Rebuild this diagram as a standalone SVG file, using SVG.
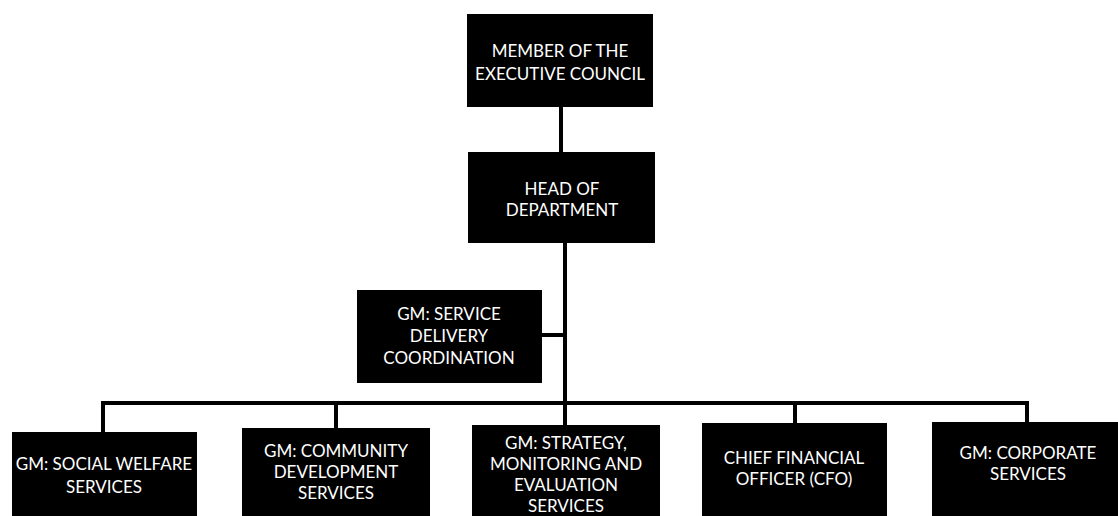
<svg xmlns="http://www.w3.org/2000/svg" width="1118" height="516" viewBox="0 0 1118 516">
<style>
.box{fill:#000;}
.t{font-family:Lato,"Open Sans",sans-serif;font-size:17px;fill:#fff;text-anchor:middle;}
.c{stroke:#000;stroke-width:4;fill:none;}
</style>
<rect width="1118" height="516" fill="#fff"/>
<g id="connectors">
<line class="c" x1="561" y1="107" x2="561" y2="152"/>
<line class="c" x1="565" y1="243" x2="565" y2="425"/>
<line class="c" x1="542" y1="335" x2="565" y2="335"/>
<line class="c" x1="101" y1="403" x2="1029" y2="403"/>
<line class="c" x1="103" y1="401" x2="103" y2="432"/>
<line class="c" x1="336" y1="401" x2="336" y2="428"/>
<line class="c" x1="795" y1="401" x2="795" y2="423"/>
<line class="c" x1="1027" y1="401" x2="1027" y2="422"/>
</g>
<g id="mec">
<rect class="box" x="467" y="14" width="186" height="93"/>
<text class="t" x="560" y="57">MEMBER OF THE</text>
<text class="t" x="560" y="80">EXECUTIVE COUNCIL</text>
</g>
<g id="hod">
<rect class="box" x="468" y="152" width="187" height="91"/>
<text class="t" x="562" y="195">HEAD OF</text>
<text class="t" x="562" y="216">DEPARTMENT</text>
</g>
<g id="sdc">
<rect class="box" x="357" y="290" width="185" height="93"/>
<text class="t" x="449" y="320">GM: SERVICE</text>
<text class="t" x="449" y="342">DELIVERY</text>
<text class="t" x="449" y="364">COORDINATION</text>
</g>
<g id="social">
<rect class="box" x="12" y="432" width="185" height="90"/>
<text class="t" x="104" y="470">GM: SOCIAL WELFARE</text>
<text class="t" x="104" y="493">SERVICES</text>
</g>
<g id="community">
<rect class="box" x="242" y="428" width="188" height="94"/>
<text class="t" x="336" y="457">GM: COMMUNITY</text>
<text class="t" x="336" y="478">DEVELOPMENT</text>
<text class="t" x="336" y="499">SERVICES</text>
</g>
<g id="strategy">
<rect class="box" x="472" y="425" width="188" height="97"/>
<text class="t" x="566" y="449">GM: STRATEGY,</text>
<text class="t" x="566" y="470">MONITORING AND</text>
<text class="t" x="566" y="491">EVALUATION</text>
<text class="t" x="566" y="512">SERVICES</text>
</g>
<g id="cfo">
<rect class="box" x="702" y="423" width="185" height="99"/>
<text class="t" x="794" y="464">CHIEF FINANCIAL</text>
<text class="t" x="794" y="485">OFFICER (CFO)</text>
</g>
<g id="corporate">
<rect class="box" x="932" y="422" width="190" height="100"/>
<text class="t" x="1028" y="459">GM: CORPORATE</text>
<text class="t" x="1028" y="480">SERVICES</text>
</g>
</svg>
